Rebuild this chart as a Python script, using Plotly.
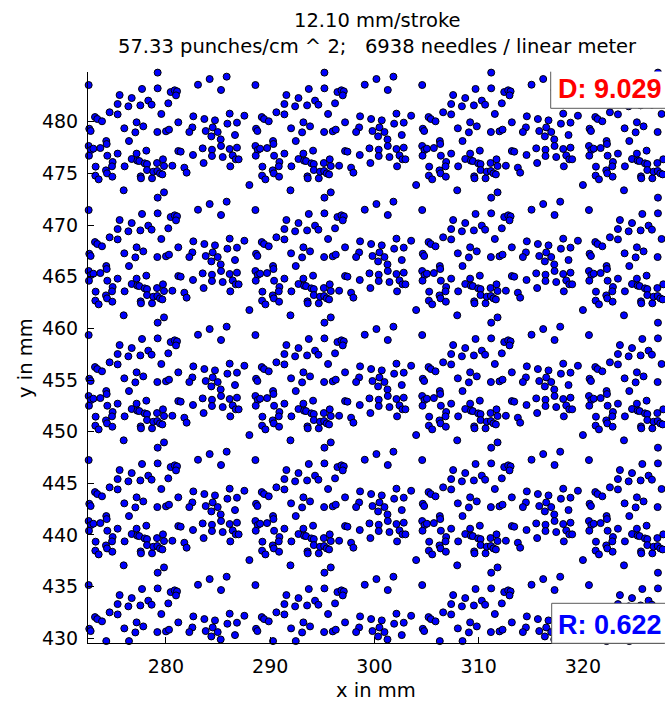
import plotly.graph_objects as go

# Punch positions produced by one needle-board module during one stroke (mm)
needle_x = [279.20, 272.58, 283.07, 284.19, 285.82, 285.28, 277.70, 279.20, 280.45, 280.83,
            281.06, 280.96, 275.55, 276.71, 278.30, 278.62, 275.36, 276.39, 277.54, 280.22,
            274.59, 275.36, 279.55, 273.19, 273.41, 273.86, 277.18, 277.82, 276.00, 277.06,
            279.17, 280.00, 280.29, 281.18, 282.62, 283.68, 284.70, 286.11, 287.52, 286.81,
            285.89, 282.53, 282.24, 283.81, 284.48, 284.96, 284.35, 285.25, 286.62, 272.64,
            272.77, 276.45, 274.27, 274.31, 272.58, 272.80, 273.03, 273.70, 274.37, 275.36,
            272.61, 278.11, 277.18, 276.71, 277.25, 277.44, 277.95, 278.18, 279.14, 279.71,
            279.81, 280.61, 281.18, 281.41, 282.59, 283.52, 284.41, 285.28, 284.41, 285.44,
            286.11, 286.81, 286.40, 286.69, 286.97, 286.17, 283.61, 281.76, 281.98, 273.25,
            274.88, 274.82, 276.03, 274.24, 274.34, 273.22, 273.54, 274.85, 277.57, 277.60,
            278.18, 278.66, 278.78, 279.17, 279.42, 279.65, 279.81, 275.94, 288.00]
needle_y = [472.65, 471.45, 471.48, 472.03, 472.26, 470.97, 471.07, 471.13, 470.77, 470.94,
            470.84, 470.45, 470.48, 470.19, 469.94, 469.55, 469.61, 469.39, 469.48, 469.68,
            468.81, 468.61, 468.65, 468.35, 468.16, 467.94, 467.84, 467.45, 467.26, 466.87,
            466.90, 466.97, 467.13, 467.84, 468.42, 468.16, 468.03, 468.68, 468.48, 467.81,
            467.71, 467.35, 466.90, 467.00, 467.35, 466.90, 466.48, 466.19, 466.61, 467.22,
            467.00, 466.03, 466.03, 465.74, 465.55, 465.16, 465.29, 465.35, 464.61, 464.81,
            464.61, 465.10, 464.81, 464.29, 464.13, 464.09, 463.87, 463.80, 463.90, 464.26,
            463.61, 463.64, 465.06, 465.00, 464.68, 465.32, 465.19, 465.55, 464.58, 464.48,
            465.26, 465.39, 464.64, 464.26, 464.26, 463.58, 463.90, 463.45, 462.97, 463.55,
            464.00, 463.58, 463.58, 463.19, 462.90, 462.68, 462.32, 462.58, 462.61, 462.42,
            463.22, 462.42, 463.06, 463.13, 462.90, 462.80, 461.06, 461.26, 461.77]

# Needle-board module repeat across the width and stroke advances along the length (mm)
module_shift_x = [0.0, 16.0, 32.0, 48.0]
stroke_shift_y = [-36.30, -24.20, -12.10, 0.0, 12.10]

x_ticks = [280, 290, 300, 310, 320]
y_ticks = [430, 435, 440, 445, 450, 455, 460, 465, 470, 475, 480]
title_line1 = "12.10 mm/stroke"
title_line2 = "57.33 punches/cm ^ 2;\u00a0\u00a0\u00a06938 needles / linear meter"
x_title = "x in mm"
y_title = "y in mm"
d_label = "D: 9.029"
r_label = "R: 0.622"

X_RANGE = [272.517, 327.78]
Y_RANGE = [429.545, 484.81]

xs, ys = [], []
for dx in module_shift_x:
    for dy in stroke_shift_y:
        for nx, ny in zip(needle_x, needle_y):
            x, y = nx + dx, ny + dy
            if (X_RANGE[0] - 0.05 <= x <= X_RANGE[1] + 0.05
                    and Y_RANGE[0] - 0.05 <= y <= Y_RANGE[1] + 0.05):
                xs.append(x)
                ys.append(y)

W, H = 665, 707
L, R, T, B = 88, 1, 72, 64
PW, PH = W - L - R, H - T - B


def px(xp):
    return (xp - L) / PW


def py(yp):
    return (H - B - yp) / PH


FONT = "DejaVu Sans"
BOLD_FONT = "Liberation Sans, Arial, sans-serif"

fig = go.Figure(go.Scatter(
    x=xs, y=ys, mode="markers", cliponaxis=False,
    marker=dict(size=7, color="#0000ff", line=dict(color="black", width=1)),
    hoverinfo="skip",
))

box_line = "#5a5a5a"
shapes = [
    # D box
    dict(type="rect", xref="paper", yref="paper", x0=px(550.7), x1=px(670), y0=py(108.3), y1=py(71.5),
         fillcolor="white", line=dict(width=0), layer="above"),
    dict(type="line", xref="paper", yref="paper", x0=px(550.7), x1=px(550.7), y0=py(108.3), y1=py(71.7),
         line=dict(color=box_line, width=1), layer="above"),
    dict(type="line", xref="paper", yref="paper", x0=px(550.7), x1=px(670), y0=py(108.3), y1=py(108.3),
         line=dict(color=box_line, width=1), layer="above"),
    # R box
    dict(type="rect", xref="paper", yref="paper", x0=px(551.7), x1=px(670), y0=py(643.5), y1=py(603.3),
         fillcolor="white", line=dict(width=0), layer="above"),
    dict(type="line", xref="paper", yref="paper", x0=px(551.7), x1=px(551.7), y0=py(643.3), y1=py(603.3),
         line=dict(color=box_line, width=1), layer="above"),
    dict(type="line", xref="paper", yref="paper", x0=px(551.7), x1=px(670), y0=py(603.3), y1=py(603.3),
         line=dict(color=box_line, width=1), layer="above"),
    dict(type="line", xref="paper", yref="paper", x0=px(551.7), x1=px(670), y0=py(643.3), y1=py(643.3),
         line=dict(color=box_line, width=1), layer="above"),
]

ann_font = dict(family=FONT, size=19.5, color="black")
annotations = [
    dict(text=title_line1, xref="paper", yref="paper", x=px(377), y=py(20.5),
         xanchor="center", yanchor="middle", showarrow=False, font=ann_font),
    dict(text=title_line2, xref="paper", yref="paper", x=px(377), y=py(46.5),
         xanchor="center", yanchor="middle", showarrow=False, font=ann_font),
    dict(text=x_title, xref="paper", yref="paper", x=px(376), y=py(691),
         xanchor="center", yanchor="middle", showarrow=False, font=ann_font),
    dict(text=y_title, xref="paper", yref="paper", x=px(25), y=py(358), textangle=-90,
         xanchor="center", yanchor="middle", showarrow=False, font=ann_font),
    dict(text="<b>" + d_label + "</b>", xref="paper", yref="paper", x=px(609.5), y=py(89),
         xanchor="center", yanchor="middle", showarrow=False,
         font=dict(family=BOLD_FONT, size=27, color="#ff0000")),
    dict(text="<b>" + r_label + "</b>", xref="paper", yref="paper", x=px(610), y=py(625),
         xanchor="center", yanchor="middle", showarrow=False,
         font=dict(family=BOLD_FONT, size=27, color="#0000ff")),
]

axis_common = dict(
    showgrid=False, zeroline=False, showline=True, linecolor="black", linewidth=1,
    ticks="inside", ticklen=6, tickwidth=1, tickcolor="black",
    tickfont=dict(family=FONT, size=19, color="black"),
    mirror=False, fixedrange=True,
)

fig.update_layout(
    width=W, height=H,
    margin=dict(l=L, r=R, t=T, b=B, pad=0),
    paper_bgcolor="white", plot_bgcolor="white",
    showlegend=False,
    xaxis=dict(range=X_RANGE, tickmode="array", tickvals=x_ticks,
               ticktext=[str(v) for v in x_ticks], ticklabelstandoff=6, **axis_common),
    yaxis=dict(range=Y_RANGE, tickmode="array", tickvals=y_ticks,
               ticktext=[str(v) for v in y_ticks], ticklabelstandoff=5, **axis_common),
    shapes=shapes,
    annotations=annotations,
)

fig.write_html(
    "out.html",
    config={"displayModeBar": False},
    post_script="document.body.style.margin='0';document.body.style.overflow='hidden';",
)
